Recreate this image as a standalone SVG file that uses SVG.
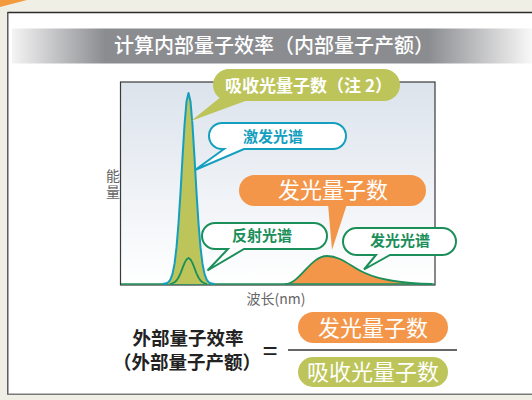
<svg xmlns="http://www.w3.org/2000/svg" width="532" height="400" viewBox="0 0 532 400">
<defs>
<linearGradient id="titleGrad" x1="12" y1="0" x2="532" y2="0" gradientUnits="userSpaceOnUse">
<stop offset="0" stop-color="#f4f4f4"/>
<stop offset="0.18" stop-color="#8b8c90"/>
<stop offset="0.8" stop-color="#8b8c90"/>
<stop offset="1" stop-color="#f8f8f8"/>
</linearGradient>
<linearGradient id="chartGrad" x1="0" y1="82" x2="0" y2="285" gradientUnits="userSpaceOnUse">
<stop offset="0" stop-color="#dce3ec"/>
<stop offset="1" stop-color="#ffffff"/>
</linearGradient>
<style>
.cjk{font-family:"Noto Sans CJK SC","Noto Sans",sans-serif}
.title{font-size:20px;fill:#ffffff;font-weight:500}
.bubT{font-size:15px;font-weight:bold}
.white{fill:#ffffff}
.axis{font-size:14px;fill:#666666}
.eq{font-size:18.5px;font-weight:bold;fill:#222222}
.olive{fill:#bcc45a}
.orange{fill:#f4964a}
</style>
</defs>
<rect x="0" y="0" width="532" height="400" fill="#f0efe6"/>
<polygon points="0,0 27,0 0,7" fill="#f39a3c"/>
<rect x="7.5" y="12.5" width="530" height="381.5" fill="#ffffff"/>
<line x1="7.5" y1="12.5" x2="532" y2="12.5" stroke="#2a2a2a" stroke-width="1.6"/>
<line x1="7.8" y1="12" x2="7.8" y2="394" stroke="#444444" stroke-width="1.3"/>
<line x1="7" y1="394.2" x2="532" y2="394.2" stroke="#7a7a7a" stroke-width="1.6"/>

<g id="title">
<rect x="12" y="28.5" width="520" height="35" fill="url(#titleGrad)"/>
<text class="cjk title" x="274" y="53" text-anchor="middle">计算内部量子效率（内部量子产额）</text>
</g>

<g id="chart">
<rect x="120.5" y="82" width="314.5" height="203" fill="url(#chartGrad)" stroke="#3a3a3a" stroke-width="1.2"/>
<text class="cjk axis" x="113" y="169" writing-mode="vertical-rl" letter-spacing="1.5">能量</text>
<text class="cjk axis" x="276" y="304" text-anchor="middle">波长(nm)</text>
</g>

<g id="curves">
<path d="M285,284 C300,284 310,256 327,256 C342,256 352,268 365,273 C378,279 395,283 432,284 Z" fill="#f4964a"/>
<line x1="121" y1="284" x2="434" y2="284" stroke="#1b8f5a" stroke-width="1.6"/>
<polyline points="162.5,284 166.5,283.3 168.5,282.1 170.5,279.4 172.5,273.9 174.5,263.9 176.5,247.4 178.5,223.4 180.5,192.4 182.5,157.6 184.5,125.1 186.5,101.6 188.5,93 190.5,101.6 192.5,125.1 194.5,157.6 196.5,192.4 198.5,223.4 200.5,247.4 202.5,263.9 204.5,273.9 206.5,279.4 208.5,282.1 210.5,283.3 214.5,284" fill="#bcc45a" stroke="#159fbf" stroke-width="2" stroke-linejoin="round"/>
<polyline points="170,284 172.5,283.3 174.5,282.3 176.5,280.5 178.5,277.5 180.5,273.3 182.5,268.2 184.5,263.2 186.5,259.4 188.5,258 190.5,259.4 192.5,263.2 194.5,268.2 196.5,273.3 198.5,277.5 200.5,280.5 202.5,282.3 204.5,283.3 207,284" fill="none" stroke="#1b8f5a" stroke-width="1.8" stroke-linejoin="round"/>
<path d="M285,284 C300,284 310,256 327,256 C342,256 352,268 365,273 C378,279 395,283 432,284" fill="none" stroke="#1b8f5a" stroke-width="1.8"/>
</g>

<g id="bubble-absorb">
<polygon points="222,96 248,100 191,121" class="olive"/>
<rect x="213" y="69" width="187" height="32" rx="16" class="olive"/>
<text class="cjk white" x="308.5" y="92" text-anchor="middle" font-size="17" font-weight="bold">吸收光量子数（注 2）</text>
</g>

<g id="bubble-excite">
<path d="M222,123 H333 A13,13 0 0 1 346,136 A13,13 0 0 1 333,149 H244 L195,170 L224,149 H222 A13,13 0 0 1 209,136 A13,13 0 0 1 222,123 Z" fill="#ffffff" stroke="#159fbf" stroke-width="2" stroke-linejoin="miter"/>
<text class="cjk bubT" x="273" y="142" text-anchor="middle" fill="#159fbf">激发光谱</text>
</g>

<g id="bubble-emitcount">
<polygon points="328,204 347,204 332,250" class="orange"/>
<rect x="239" y="175" width="187" height="31" rx="15.5" class="orange"/>
<text class="cjk white" x="333" y="198" text-anchor="middle" font-size="22">发光量子数</text>
</g>

<g id="bubble-reflect">
<path d="M215,223 H314 A13,13 0 0 1 327,236 A13,13 0 0 1 314,249 H244 L207.5,270.5 L228,249 H215 A13,13 0 0 1 202,236 A13,13 0 0 1 215,223 Z" fill="#ffffff" stroke="#1b8f5a" stroke-width="2"/>
<text class="cjk bubT" x="262" y="241" text-anchor="middle" fill="#1b8f5a">反射光谱</text>
</g>

<g id="bubble-emit">
<path d="M356.5,228 H442.5 A13.5,13.5 0 0 1 456,241.5 A13.5,13.5 0 0 1 442.5,255 H390 L364,269.5 L376,255 H356.5 A13.5,13.5 0 0 1 343,241.5 A13.5,13.5 0 0 1 356.5,228 Z" fill="#ffffff" stroke="#1b8f5a" stroke-width="2"/>
<text class="cjk bubT" x="400" y="246" text-anchor="middle" fill="#1b8f5a">发光光谱</text>
</g>

<g id="equation-left">
<text class="cjk eq" x="188" y="345" text-anchor="middle">外部量子效率</text>
<text class="cjk eq" x="187" y="369" text-anchor="middle">（外部量子产额）</text>
</g>

<g id="equals">
<text x="270" y="359" text-anchor="middle" font-family="Liberation Sans, sans-serif" font-size="26" fill="#222222">=</text>
</g>

<g id="fraction">
<rect x="298" y="312" width="150" height="31" rx="15.5" class="orange"/>
<text class="cjk white" x="373" y="336" text-anchor="middle" font-size="22">发光量子数</text>
<line x1="288" y1="350" x2="457" y2="350" stroke="#333333" stroke-width="1.6"/>
<rect x="298" y="357" width="150" height="30" rx="15" class="olive"/>
<text class="cjk white" x="373" y="380" text-anchor="middle" font-size="22">吸收光量子数</text>
</g>
</svg>
